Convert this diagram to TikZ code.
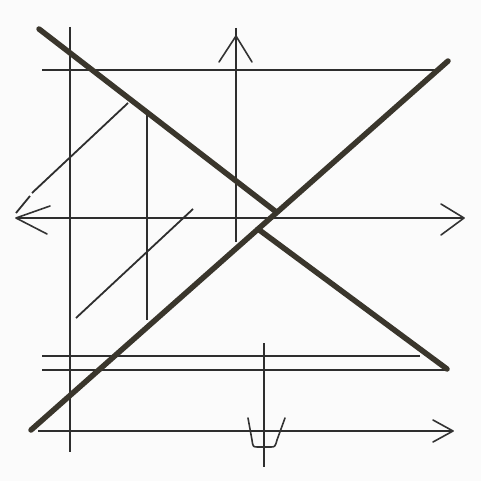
\documentclass[tikz,border=0pt]{standalone}
\begin{document}
\begin{tikzpicture}[x=1pt,y=-1pt,
  thin line/.style={draw=black!82, line width=1.8pt},
  thick line/.style={draw=black!78!olive, line width=5.5pt, line cap=round},
  barb/.style={draw=black!80, line width=1.6pt, line cap=round, line join=round}]
\fill[white!98.5!black] (0,0) rectangle (481,481);
\useasboundingbox (0,0) rectangle (481,481);
% verticals
\draw[thin line] (70,27) -- (70,452);
\draw[thin line] (236,28) -- (236,242);
\draw[thin line] (147,115) -- (147,320);
\draw[thin line] (264,343) -- (264,467);
% horizontals
\draw[thin line] (42,70) -- (436,70);
\draw[thin line] (16,218) -- (464,218);
\draw[thin line] (42,356) -- (420,356);
\draw[thin line] (42,370) -- (447,370);
\draw[thin line] (38,431) -- (453,431);
% thin diagonals
\draw[thin line] (128,103) -- (32,193);
\draw[thin line] (30,196) -- (16,213);
\draw[thin line] (193,209) -- (76,318);
% arrowheads
\draw[barb] (219,62) -- (236,36) -- (252,62);
\draw[barb] (50,206) -- (16,218) -- (47,234);
\draw[barb] (441,204) -- (464,218) -- (441,235);
\draw[barb] (433,420) -- (453,431) -- (433,442);
% cup on lower vertical
\draw[barb] (248,418) -- (252,440) .. controls (253,447) .. (258,447) -- (270,447)
  .. controls (275,447) .. (277,440) -- (285,418);
% thick diagonals
\draw[thick line] (39,29) -- (275,211);
\draw[thick line] (258,229) -- (447,369);
\draw[thick line] (31,430) -- (448,61);
\end{tikzpicture}
\end{document}
